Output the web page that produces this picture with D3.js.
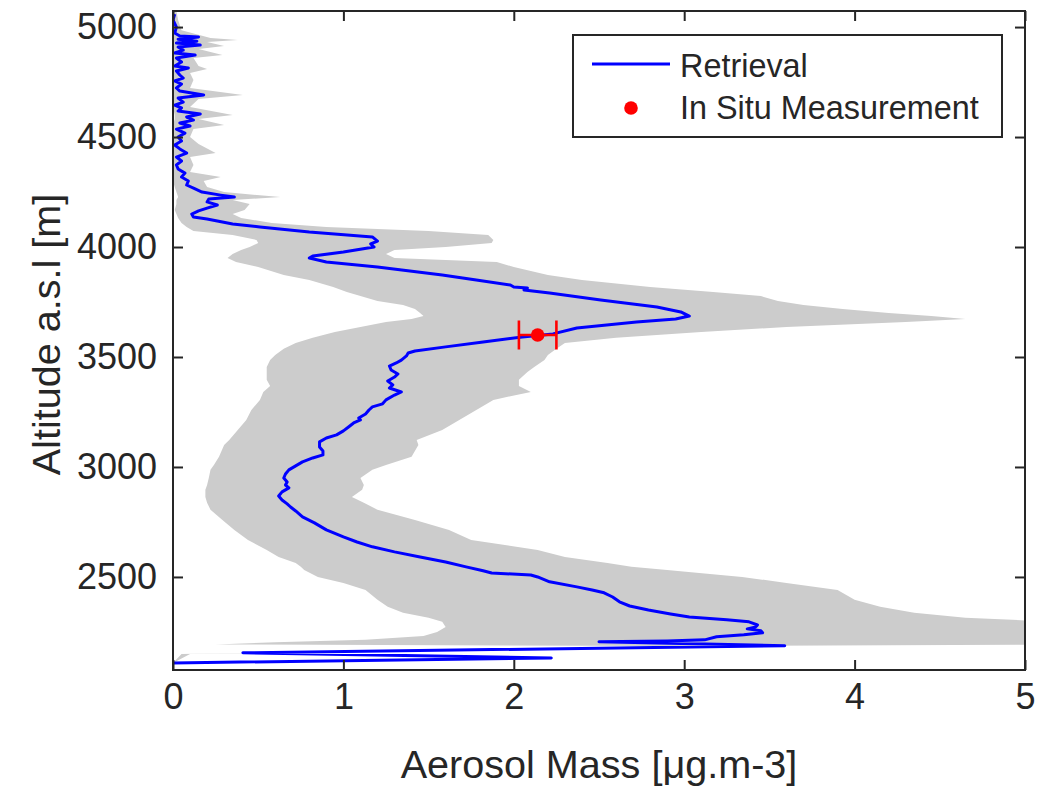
<!DOCTYPE html>
<html>
<head>
<meta charset="utf-8">
<script src="https://cdn.jsdelivr.net/npm/d3@7"></script>
<style>
  html, body { margin: 0; padding: 0; background: #ffffff; }
  svg { display: block; font-family: "Liberation Sans", Arial, Helvetica, sans-serif; }
</style>
</head>
<body>
<svg id="chart" width="1037" height="786"></svg>
<script>
// Retrieved aerosol mass profile (altitude in m a.s.l., mass in µg/m3)
const retrievalAlt = [
  5059, 5032, 5000, 4973, 4959, 4955, 4945, 4936, 4927, 4918, 4909, 4895, 4882, 4873, 4859,
  4841, 4823, 4814, 4800, 4782, 4768, 4755, 4741, 4723, 4709, 4691, 4677, 4659, 4645, 4632,
  4618, 4605, 4591, 4577, 4564, 4550, 4536, 4518, 4500, 4482, 4464, 4446, 4427, 4409, 4391,
  4373, 4355, 4336, 4318, 4300, 4282, 4264, 4250, 4236, 4227, 4218, 4205, 4191, 4177, 4164,
  4150, 4136, 4127, 4118, 4105, 4091, 4068, 4046, 4027, 4014, 4000, 3977, 3959, 3950, 3932,
  3909, 3873, 3850, 3827, 3818, 3814, 3805, 3791, 3759, 3727, 3705, 3686, 3673, 3659, 3632,
  3605, 3591, 3568, 3546, 3527, 3518, 3505, 3486, 3473, 3459, 3441, 3423, 3409, 3391, 3373,
  3359, 3341, 3327, 3305, 3287, 3273, 3259, 3241, 3223, 3214, 3200, 3182, 3164, 3146, 3132,
  3114, 3091, 3073, 3055, 3041, 3023, 3005, 2987, 2968, 2950, 2932, 2918, 2905, 2887, 2868,
  2850, 2832, 2818, 2800, 2773, 2746, 2714, 2682, 2659, 2637, 2614, 2591, 2568, 2546, 2528,
  2518, 2509, 2500, 2478, 2455, 2441, 2428, 2409, 2387, 2368, 2350, 2332, 2318, 2305, 2296,
  2282, 2273, 2264, 2255, 2246, 2237, 2228, 2214, 2209, 2205, 2187, 2155, 2132, 2109
];
const retrievalMass = [
  0.01, 0.00, 0.02, 0.01, 0.04, 0.15, 0.03, 0.14, 0.02, 0.16, 0.03, 0.06, 0.01, 0.13, 0.02,
  0.05, 0.01, 0.09, 0.02, 0.04, 0.06, 0.01, 0.05, 0.02, 0.04, 0.18, 0.03, 0.06, 0.01, 0.05,
  0.03, 0.16, 0.08, 0.12, 0.04, 0.10, 0.02, 0.07, 0.03, 0.05, 0.01, 0.04, 0.08, 0.02, 0.05,
  0.02, 0.03, 0.07, 0.05, 0.09, 0.08, 0.13, 0.17, 0.28, 0.36, 0.21, 0.20, 0.26, 0.20, 0.15,
  0.11, 0.12, 0.20, 0.26, 0.35, 0.51, 0.80, 1.17, 1.20, 1.16, 1.18, 1.00, 0.82, 0.80, 0.90,
  1.20, 1.58, 1.78, 1.98, 2.00, 2.08, 2.06, 2.21, 2.51, 2.84, 2.98, 3.03, 2.95, 2.72, 2.37,
  2.23, 2.05, 1.82, 1.60, 1.42, 1.38, 1.37, 1.34, 1.31, 1.27, 1.28, 1.32, 1.30, 1.26, 1.29,
  1.27, 1.34, 1.30, 1.25, 1.23, 1.17, 1.15, 1.13, 1.09, 1.10, 1.06, 1.03, 1.00, 0.96, 0.90,
  0.86, 0.86, 0.88, 0.88, 0.82, 0.76, 0.72, 0.68, 0.66, 0.65, 0.67, 0.66, 0.68, 0.64, 0.62,
  0.64, 0.67, 0.69, 0.72, 0.76, 0.83, 0.90, 1.00, 1.08, 1.17, 1.30, 1.45, 1.60, 1.72, 1.82,
  1.87, 2.10, 2.14, 2.21, 2.37, 2.46, 2.53, 2.58, 2.62, 2.68, 2.79, 2.92, 3.03, 3.25, 3.38,
  3.43, 3.42, 3.37, 3.45, 3.46, 3.35, 3.19, 3.12, 2.90, 2.50, 3.59, 0.41, 2.22, 0.00
];

// Uncertainty envelope of the retrieval
const bandAlt = [
  5073, 5032, 4986, 4950, 4941, 4932, 4914, 4900, 4873, 4859, 4823, 4809, 4791, 4759, 4723,
  4691, 4673, 4636, 4600, 4582, 4555, 4536, 4500, 4468, 4427, 4409, 4373, 4341, 4318, 4300,
  4273, 4250, 4227, 4214, 4196, 4168, 4150, 4132, 4109, 4091, 4073, 4055, 4032, 4018, 4000,
  3986, 3968, 3950, 3932, 3909, 3873, 3850, 3818, 3796, 3777, 3755, 3736, 3718, 3700, 3686,
  3673, 3659, 3636, 3614, 3587, 3564, 3537, 3509, 3486, 3455, 3432, 3396, 3368, 3341, 3305,
  3259, 3214, 3168, 3123, 3100, 3046, 3009, 2987, 2950, 2918, 2896, 2864, 2837, 2805, 2759,
  2714, 2668, 2623, 2591, 2564, 2546, 2532, 2500, 2473, 2441, 2396, 2364, 2337, 2314, 2296,
  2273, 2250, 2232, 2214, 2203, 2193, 2186, 2150, 2109
];
const bandLow = [
  0.00, 0.00, 0.00, 0.00, 0.00, 0.00, 0.00, 0.00, 0.00, 0.00, 0.00, 0.00, 0.00, 0.00, 0.00,
  0.00, 0.00, 0.00, 0.01, 0.01, 0.00, 0.00, 0.00, 0.00, 0.00, 0.00, 0.00, 0.00, 0.00, 0.00,
  0.01, 0.02, 0.03, 0.02, 0.02, 0.01, 0.02, 0.03, 0.05, 0.08, 0.12, 0.35, 0.49, 0.50, 0.45,
  0.40, 0.35, 0.32, 0.37, 0.50, 0.65, 0.80, 0.94, 1.02, 1.10, 1.20, 1.35, 1.42, 1.45, 1.47,
  1.40, 1.25, 1.10, 0.95, 0.82, 0.72, 0.65, 0.60, 0.57, 0.55, 0.55, 0.55, 0.57, 0.53, 0.51,
  0.46, 0.43, 0.38, 0.33, 0.30, 0.27, 0.24, 0.22, 0.21, 0.20, 0.19, 0.19, 0.20, 0.22, 0.29,
  0.36, 0.44, 0.55, 0.62, 0.72, 0.75, 0.77, 0.85, 1.00, 1.13, 1.20, 1.26, 1.35, 1.50, 1.58,
  1.60, 1.55, 1.47, 1.13, 0.60, 0.25, 3.00, 0.05, 0.00
];
const bandHigh = [
  0.02, 0.03, 0.05, 0.22, 0.38, 0.20, 0.30, 0.15, 0.29, 0.12, 0.15, 0.20, 0.10, 0.12, 0.10,
  0.41, 0.15, 0.10, 0.35, 0.15, 0.30, 0.12, 0.10, 0.15, 0.25, 0.10, 0.12, 0.10, 0.28, 0.18,
  0.20, 0.30, 0.63, 0.35, 0.45, 0.42, 0.35, 0.40, 0.58, 0.90, 1.50, 1.85, 1.88, 1.87, 1.60,
  1.30, 1.25, 1.30, 1.90, 2.00, 2.20, 2.40, 2.80, 3.17, 3.45, 3.55, 3.70, 3.93, 4.20, 4.45,
  4.65, 4.30, 3.60, 3.10, 2.60, 2.30, 2.25, 2.20, 2.18, 2.12, 2.08, 2.03, 2.03, 2.10, 1.88,
  1.78, 1.68, 1.58, 1.43, 1.44, 1.40, 1.25, 1.17, 1.10, 1.12, 1.11, 1.05, 1.12, 1.20, 1.42,
  1.62, 1.75, 2.14, 2.30, 2.55, 2.69, 2.90, 3.34, 3.60, 3.90, 4.00, 4.15, 4.35, 4.65, 5.20,
  5.20, 5.20, 5.20, 5.20, 5.20, 5.20, 3.10, 0.10, 0.00
];

// In situ sample with its uncertainty
const insituAlt = [3600];
const insituMass = [2.14];
const insituErr = [0.11];

const xTicks = [0, 1, 2, 3, 4, 5];
const yTicks = [2500, 3000, 3500, 4000, 4500, 5000];
const legendLabels = ["Retrieval", "In Situ Measurement"];

const W = 1037, H = 786;
const margin = { left: 173, right: 12, top: 11, bottom: 116 };
const plotW = W - margin.left - margin.right;
const plotH = H - margin.top - margin.bottom;
const axisColor = "#262626";
const tickFont = 36;

const svg = d3.select("#chart");
const g = svg.append("g").attr("transform", `translate(${margin.left},${margin.top})`);

const x = d3.scaleLinear().domain([0, 5]).range([0, plotW]);
const y = d3.scaleLinear().domain([2077, 5073]).range([plotH, 0]);

svg.append("defs").append("clipPath").attr("id", "plotClip")
  .append("rect").attr("x", 0).attr("y", 0).attr("width", plotW).attr("height", plotH);

const plot = g.append("g").attr("clip-path", "url(#plotClip)");

// envelope
const band = bandAlt.map((a, i) => ({ alt: a, lo: bandLow[i], hi: bandHigh[i] }));
plot.append("path")
  .datum(band)
  .attr("fill", "#cccccc")
  .attr("stroke", "none")
  .attr("d", d3.area()
    .y(d => y(d.alt))
    .x0(d => x(d.lo))
    .x1(d => x(d.hi)));

// retrieval profile
const profile = retrievalAlt.map((a, i) => ({ alt: a, v: retrievalMass[i] }));
plot.append("path")
  .datum(profile)
  .attr("fill", "none")
  .attr("stroke", "#0000ff")
  .attr("stroke-width", 3)
  .attr("stroke-linejoin", "round")
  .attr("d", d3.line().x(d => x(d.v)).y(d => y(d.alt)));

// in situ measurement with horizontal error bar
const insitu = insituAlt.map((a, i) => ({ alt: a, v: insituMass[i], e: insituErr[i] }));
const capHalf = 14.5;
const eb = plot.selectAll(".insitu").data(insitu).enter().append("g").attr("class", "insitu");
eb.append("line")
  .attr("x1", d => x(d.v - d.e)).attr("x2", d => x(d.v + d.e))
  .attr("y1", d => y(d.alt)).attr("y2", d => y(d.alt))
  .attr("stroke", "#ff0000").attr("stroke-width", 2.6);
eb.append("line")
  .attr("x1", d => x(d.v - d.e)).attr("x2", d => x(d.v - d.e))
  .attr("y1", d => y(d.alt) - capHalf).attr("y2", d => y(d.alt) + capHalf)
  .attr("stroke", "#ff0000").attr("stroke-width", 2.6);
eb.append("line")
  .attr("x1", d => x(d.v + d.e)).attr("x2", d => x(d.v + d.e))
  .attr("y1", d => y(d.alt) - capHalf).attr("y2", d => y(d.alt) + capHalf)
  .attr("stroke", "#ff0000").attr("stroke-width", 2.6);
eb.append("circle")
  .attr("cx", d => x(d.v)).attr("cy", d => y(d.alt)).attr("r", 6.8)
  .attr("fill", "#ff0000");

// axes: ticks pointing inward on all four sides
function styleAxis(sel) {
  sel.selectAll("path.domain").remove();
  sel.selectAll(".tick line").attr("stroke", axisColor).attr("stroke-width", 2);
  sel.selectAll(".tick text")
    .attr("fill", axisColor)
    .style("font-size", tickFont + "px")
    .style("font-family", '"Liberation Sans", Arial, Helvetica, sans-serif');
}

g.append("g").attr("transform", `translate(0,${plotH})`)
  .call(d3.axisBottom(x).tickValues(xTicks).tickFormat(d3.format("d"))
    .tickSizeInner(-10).tickSizeOuter(0).tickPadding(13))
  .call(styleAxis);
g.append("g")
  .call(d3.axisTop(x).tickValues(xTicks).tickFormat("")
    .tickSizeInner(-10).tickSizeOuter(0))
  .call(styleAxis);
g.append("g")
  .call(d3.axisLeft(y).tickValues(yTicks).tickFormat(d3.format("d"))
    .tickSizeInner(-10).tickSizeOuter(0).tickPadding(16))
  .call(styleAxis);
g.append("g").attr("transform", `translate(${plotW},0)`)
  .call(d3.axisRight(y).tickValues(yTicks).tickFormat("")
    .tickSizeInner(-10).tickSizeOuter(0))
  .call(styleAxis);

// box
g.append("rect")
  .attr("x", 0).attr("y", 0).attr("width", plotW).attr("height", plotH)
  .attr("fill", "none").attr("stroke", axisColor).attr("stroke-width", 2);

// axis titles
svg.append("text")
  .attr("x", margin.left + plotW / 2).attr("y", 778)
  .attr("text-anchor", "middle")
  .attr("fill", axisColor)
  .style("font-size", "39.6px")
  .text("Aerosol Mass [μg.m-3]");

svg.append("text")
  .attr("transform", `translate(60,${margin.top + plotH / 2 - 6}) rotate(-90)`)
  .attr("text-anchor", "middle")
  .attr("fill", axisColor)
  .style("font-size", "39.6px")
  .text("Altitude a.s.l [m]");

// legend
const lg = svg.append("g").attr("transform", "translate(573,35)");
lg.append("rect")
  .attr("width", 429).attr("height", 102)
  .attr("fill", "#ffffff").attr("stroke", axisColor).attr("stroke-width", 2);
lg.append("line")
  .attr("x1", 19).attr("x2", 97).attr("y1", 29).attr("y2", 29)
  .attr("stroke", "#0000ff").attr("stroke-width", 3);
lg.append("circle")
  .attr("cx", 58).attr("cy", 73).attr("r", 6.8).attr("fill", "#ff0000");
lg.selectAll("text.lbl").data(legendLabels).enter().append("text")
  .attr("class", "lbl")
  .attr("x", 107)
  .attr("y", (d, i) => 31 + i * 42)
  .attr("dy", "0.35em")
  .attr("fill", axisColor)
  .style("font-size", "32.4px")
  .text(d => d);
</script>
</body>
</html>
